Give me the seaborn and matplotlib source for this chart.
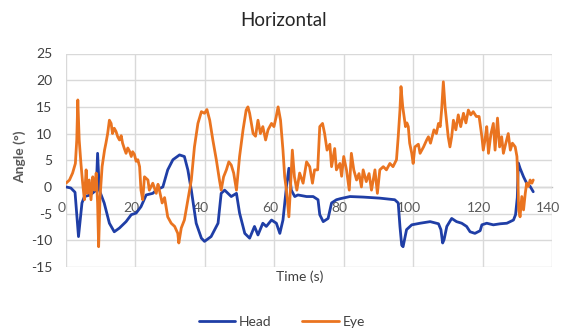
import matplotlib
matplotlib.use("Agg")
import matplotlib.pyplot as plt
import matplotlib.transforms as mtransforms
import seaborn as sns
import pandas as pd

# ---- data ----
head_t = [0, 1.4, 2.6, 3.6, 4.6, 5.3, 7, 8.7, 9.1, 9.6, 11, 12.5, 13.9, 15.4, 17.3, 18.8, 20.2, 21.6, 23.1, 25,
          26, 27.9, 29.3, 30.8, 32.7, 34.1, 35.1, 36.1, 37.5, 39, 39.9, 41.8, 43.8, 44.7, 45.7, 47.6, 49.1, 50,
          51.5, 52.9, 54.3, 55.3, 56.7, 57.7, 59.2, 60.6, 61.6, 62.5, 63.5, 64.2, 64.9, 65.9, 66.8, 69.3, 71.2,
          72.6, 73.1, 74.1, 75.5, 76.5, 77.9, 79, 81.8, 85.6, 90.4, 94.7, 95.7, 96.2, 96.7, 97.1, 98.1, 99.6,
          102, 104.9, 107.3, 108, 108.5, 108.9, 109.7, 111.1, 112.5, 114, 115.4, 116.4, 117.8, 119.3, 119.8,
          121.2, 123.1, 125.1, 127, 128.9, 129.5, 130.0, 130.3, 130.8, 131.8, 132.7, 133.7, 134.6]
head_v = [0, -0.2, -1.0, -9.3, -3, -1.8, -1.5, -0.6, 6.3, -0.6, -3, -6.8, -8.4, -7.7, -6.5, -5.2, -4.9, -3.7, -1.5, -1.2,
          -0.6, 0, 3.2, 5.1, 6.0, 5.7, 3.2, -0.6, -6.8, -9.6, -10.2, -9.3, -6.8, -1.2, -0.6, -1.8, -1.2, -4.9,
          -8.7, -9.6, -7.4, -9, -6.8, -7.4, -6.2, -6.8, -8.7, -6.2, 0, 3.5, -0.6, -1.8, -1.5, -1.8, -1.8,
          -2.4, -5.2, -6.5, -5.9, -3, -2.4, -2.2, -1.8, -1.9, -2.1, -2.4, -3, -7.4, -10.9, -11.2, -8, -7.1,
          -6.8, -6.5, -6.9, -8, -10.5, -9.9, -7.4, -5.9, -6.5, -6.8, -7.4, -8.4, -8.7, -8.2, -7.1,
          -6.8, -7.1, -6.9, -6.8, -6.2, -5.2, -2.0, 4.5, 3.5, 1.9, 0.7, 0.1, -0.9]

eye_t = [0, 1, 1.9, 2.7, 3.1, 3.4, 3.8, 4.3, 4.8, 5.3, 5.8, 6.2, 6.7, 7.2, 7.7, 8.2, 8.7, 9.1, 9.4, 9.8, 10.4,
         11.1, 11.5, 12, 12.5, 13, 13.4, 13.9, 14.4, 14.9, 15.4, 15.9, 16.3, 16.8, 17.3, 17.8, 18.3, 18.8, 19.2,
         19.7, 20.2, 20.7, 21.2, 21.6, 22.1, 22.6,
         23.6, 24, 25, 26, 26.5, 26.9, 27.7, 28.4, 29.3, 30.3, 31.3, 32.2, 32.5, 33.2, 34.1, 35.1, 36.1, 37, 38,
         39, 39.9, 40.6, 41.4, 42.3, 43.3, 44.2, 44.7, 45.4, 46.2, 46.9, 47.6, 48.3, 49.1, 50, 51, 51.9, 52.4,
         52.9, 53.9, 54.6, 55.3, 56, 56.7, 57.5, 58.2, 59.2, 59.9, 60.5, 61.1, 61.8, 62.5, 63, 63.5, 64.2, 64.6,
         65.2, 65.8, 66.5, 67.3, 68.3, 69.3, 70.2, 71, 71.6, 72.5, 73.1, 73.9, 74.5, 75.2, 76, 76.5, 77.4, 77.9,
         78.9, 79.4, 80, 80.8, 81.6, 82.2, 82.9, 83.7, 84.4, 85.1, 85.6, 86.5, 87.3, 88, 89, 89.7, 90.4, 91.4,
         92.3, 93.3, 94.2, 95.2, 95.7, 96.2, 96.5, 97, 97.8, 98.2, 98.6, 99, 99.6, 100, 100.5, 101.5, 102, 103,
         103.9, 104.4, 105, 106, 106.7, 107.3, 107.8, 108.2, 108.7, 109.2, 109.7, 110.1, 110.6, 111.1, 111.6,
         112.3, 113, 113.7, 114.5, 115.2, 115.9, 116.6, 117.3, 118.2, 119, 119.8, 120.2, 120.7, 121.2, 121.7,
         122.4, 123.1, 123.6, 124.3, 124.9, 125.5, 126, 126.7, 127.4, 128, 128.6, 129.4, 129.9, 130.2, 130.4,
         130.8, 131.3, 131.8, 132.3, 132.7, 133.2, 133.7, 134.2, 134.6]
eye_v = [0.7, 1.3, 2.6, 4.4, 8.8, 16.3, 8.8, 4.4, 0.7, -2.4, 3.2, -1.2, 1.3, -2.4, 1.9, -0.6, 2.6, -3, -11.2, -2, 3.8,
         6.9, 8.2, 10, 12.5, 11.9, 10, 11.0, 10.4, 9.4, 8.8, 9.6, 8.2, 7.2, 6.3, 7.3, 6.7, 5.7, 6.6,
         6.1, 4.8, 5.1, 3.8, -0.6, -2.4, 1.9,
         1.3, -0.6, 0.7, -1.2, 0.5, -0.6, -3, -2, -5.6, -6.8, -7.4, -8.7, -10.5, -7.7, -6.2, -2.4, 1.3, 7.5, 11.9,
         14.1, 13.8, 14.5, 12.5, 8.8, 5.1, 1.3, -0.6, 1.9, 3.2, 4.7, 4.1, 2.6, -0.6, 5.7, 10.7, 14.4, 15,
         13.8, 10, 9.5, 12.5, 10, 11.3, 8.8, 10.7, 11.9, 11.3, 13, 15, 12.5, 6.9, 1.9, -0.6, -5.6, -1,
         6.9, 1.9, -0.6, 2.6, 0.7, 4.7, 3.8, 0.7, 3.2, 3.2, 11.3, 11.9, 10, 6.9, 8, 3.8, 7.2, 3.2,
         4.4, 2, 5.7, 3.2, -0.6, 6.3, 3.2, 1.3, 2.5, 0, 3.2, 1.0, 2.5, -0.6, 3.2, -1.2, 3.2, 3.8,
         3.2, 4.4, 3.8, 5.1, 9.4, 14.4, 18.8, 15, 11.3, 12, 11.3, 8.2, 6.3, 4.4, 7.5, 8, 6.3, 7.5,
         8.8, 9.4, 8.2, 10.7, 10, 11.9, 11.3, 14.4, 19.7, 15, 11.9, 9.4, 7.5, 9.4, 12.5,
         10.7, 13.5, 11.3, 13.8, 12, 14.4, 13.5, 14.1, 13.2, 13.2, 9.4, 6.9, 8.8, 11.3, 6.3,
         9.9, 11.9, 6.9, 12.9, 7.5, 9.4, 6.3, 8.2, 10, 6.9, 8.2, 7.5, 5.7, 0.7, -4.3,
         -5.6, -1.8, -4.3, -1.2, 0.7, 0.1, 1.3, 0.7, 1.3]

series_names = ["Head", "Eye"]
x_ticks = [0, 20, 40, 60, 80, 100, 120, 140]
y_ticks = [-15, -10, -5, 0, 5, 10, 15, 20, 25]

df = pd.concat([
    pd.DataFrame({"t": head_t, "v": head_v, "series": series_names[0]}),
    pd.DataFrame({"t": eye_t, "v": eye_v, "series": series_names[1]}),
], ignore_index=True)

sns.set_style("white")
plt.rcParams["font.family"] = ["Lato", "DejaVu Sans"]

fig = plt.figure(figsize=(5.62, 3.30), dpi=100)
ax = fig.add_axes([66 / 562, 1 - 267 / 330, (552 - 66) / 562, (267 - 53.5) / 330])

palette = {"Head": "#1f3ea6", "Eye": "#ea7420"}
sns.lineplot(data=df, x="t", y="v", hue="series", palette=palette, ax=ax,
             estimator=None, sort=False, linewidth=2.0, legend=True)

ax.set_xlim(0, 140)
ax.set_ylim(-15, 25)
ax.set_xticks(x_ticks)
ax.set_yticks(y_ticks)
ax.set_xticklabels([str(v) for v in x_ticks])
ax.set_yticklabels([str(v) for v in y_ticks])
ax.grid(True, color="#d9d9d9", linewidth=1.0)
ax.set_axisbelow(True)
for s in ["top", "right", "left"]:
    ax.spines[s].set_visible(False)
ax.spines["bottom"].set_position(("data", 0))
ax.spines["bottom"].set_color("#bfbfbf")
ax.spines["bottom"].set_linewidth(1.0)
ax.spines["bottom"].set_zorder(0.5)
ax.tick_params(axis="x", length=0, pad=11, labelsize=10, labelcolor="#595959")
ax.tick_params(axis="y", length=0, pad=10, labelsize=10, labelcolor="#404040")
ax.set_xlabel("")
ax.set_ylabel("")

shift = mtransforms.ScaledTranslation(-4 / 100, 0, fig.dpi_scale_trans)
for lbl in ax.get_xticklabels():
    lbl.set_transform(lbl.get_transform() + shift)

fig.text(0.504, 1 - 20 / 330, "Horizontal", ha="center", va="center", fontsize=13.5, color="#262626")
fig.text(20 / 562, 1 - 157 / 330, "Angle (°)", ha="center", va="center", rotation=90,
         fontsize=10, fontweight="bold", color="#595959")
fig.text(300 / 562, 1 - 277 / 330, "Time (s)", ha="center", va="center", fontsize=10, color="#404040")

handles, labels = ax.get_legend_handles_labels()
ax.get_legend().remove()
leg = fig.legend(handles, labels, loc="center", bbox_to_anchor=(282 / 562, 1 - 322 / 330), ncol=2,
                 frameon=False, fontsize=10, handlelength=2.6, columnspacing=2.2, handletextpad=0.3)
for t in leg.get_texts():
    t.set_color("#404040")

fig.savefig("out.png", dpi=100)
